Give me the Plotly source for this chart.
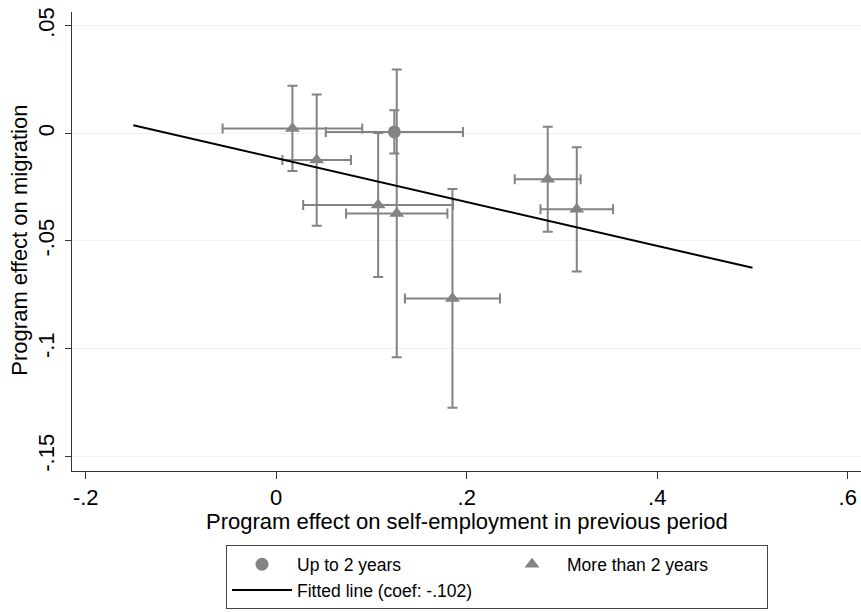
import plotly.graph_objects as go

# --- data ---
up2_x = [0.124]
up2_y = [0.0007]
up2_xerr = [0.072]
up2_yerr = [0.0101]

more2_x = [0.017, 0.0425, 0.107, 0.1265, 0.185, 0.285, 0.3155]
more2_y = [0.0023, -0.0124, -0.0333, -0.0372, -0.0767, -0.0213, -0.0353]
more2_xerr = [0.0733, 0.036, 0.0787, 0.0532, 0.0499, 0.0346, 0.0381]
more2_yerr = [0.0198, 0.0305, 0.0335, 0.0669, 0.0508, 0.0244, 0.0289]

fit_x = [-0.15, 0.5]
fit_intercept = -0.0115
fit_slope = -0.102

x_tickvals = [-0.2, 0, 0.2, 0.4, 0.6]
x_ticktext = ["-.2", "0", ".2", ".4", ".6"]
y_tickvals = [0.05, 0, -0.05, -0.1, -0.15]
y_ticktext = [".05", "0", "-.05", "-.1", "-.15"]

x_title = "Program effect on self-employment in previous period"
y_title = "Program effect on migration"

GRAY = "#838383"
FONT = "Liberation Sans, Arial, sans-serif"

fig = go.Figure()

fig.add_trace(go.Scatter(
    x=up2_x, y=up2_y, mode="markers", name="Up to 2 years",
    marker=dict(symbol="circle", size=13, color=GRAY, line=dict(width=0)),
    error_x=dict(type="data", array=up2_xerr, color=GRAY, thickness=2, width=5),
    error_y=dict(type="data", array=up2_yerr, color=GRAY, thickness=2, width=5),
))
fig.add_trace(go.Scatter(
    x=more2_x, y=more2_y, mode="markers", name="More than 2 years",
    marker=dict(symbol="triangle-up", size=13, color=GRAY, line=dict(width=0)),
    error_x=dict(type="data", array=more2_xerr, color=GRAY, thickness=2, width=5),
    error_y=dict(type="data", array=more2_yerr, color=GRAY, thickness=2, width=5),
))
fit_y = [fit_intercept + fit_slope * v for v in fit_x]
fig.add_trace(go.Scatter(
    x=fit_x, y=fit_y, mode="lines", name="Fitted line (coef: -.102)",
    line=dict(color="black", width=2),
))

# page body margin is removed (post_script below), so figure fills the 861x612 window
W, H = 861, 612
plot_left, plot_top, plot_right, plot_bottom = 72, 12, 861, 470.7
ml, mt, mr = plot_left, plot_top, 0
mb = H - plot_bottom
pw, ph = plot_right - plot_left, plot_bottom - plot_top

def px_x(p):  # page pixel -> paper x
    return (p - plot_left) / pw

def px_y(p):  # page pixel -> paper y
    return (plot_bottom - p) / ph

fig.update_layout(
    width=W, height=H,
    margin=dict(l=ml, r=mr, t=mt, b=mb, autoexpand=False),
    paper_bgcolor="white", plot_bgcolor="white",
    font=dict(family=FONT, size=22, color="black"),
    showlegend=True,
    hovermode=False,
    legend=dict(
        orientation="h",
        x=px_x(226), xanchor="left",
        y=px_y(545), yanchor="top",
        bordercolor="#444", borderwidth=1, bgcolor="white",
        font=dict(family=FONT, size=17.5, color="black"),
        itemwidth=60, entrywidth=195, traceorder="normal",
    ),
    xaxis=dict(
        range=[-0.2144, 0.6139],
        tickvals=x_tickvals, ticktext=x_ticktext,
        showgrid=False, zeroline=False,
        showline=True, linecolor="#333", linewidth=1,
        ticks="outside", ticklen=7, tickcolor="#333",
        ticklabeloverflow="allow",
        automargin=False,
    ),
    yaxis=dict(
        range=[-0.15693, 0.05642],
        tickvals=y_tickvals, ticktext=y_ticktext,
        tickangle=-90, ticklabelstandoff=2,
        ticklabeloverflow="allow",
        showgrid=True, gridcolor="#eaf2f3", gridwidth=1,
        zeroline=False,
        showline=True, linecolor="#333", linewidth=1,
        ticks="outside", ticklen=6, tickcolor="#333",
        automargin=False,
    ),
    annotations=[
        dict(text=x_title, xref="paper", yref="paper",
             x=px_x(466.5), y=px_y(521), xanchor="center", yanchor="middle",
             showarrow=False, font=dict(family=FONT, size=22, color="black")),
        dict(text=y_title, xref="paper", yref="paper", textangle=-90,
             x=px_x(20), y=px_y(240.5), xanchor="center", yanchor="middle",
             showarrow=False, font=dict(family=FONT, size=22, color="black")),
    ],
)

fig.write_html(
    "out.html",
    config={"displayModeBar": False, "staticPlot": True},
    post_script=(
        "document.body.style.margin='0';"
        "document.documentElement.style.overflow='hidden';"
        "document.body.style.overflow='hidden';"
    ),
)
